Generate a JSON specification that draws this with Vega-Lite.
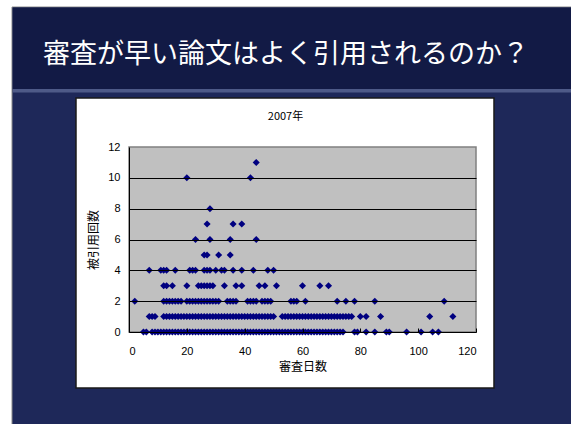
{
  "$schema": "https://vega.github.io/schema/vega-lite/v6.json",
  "width": 347,
  "height": 185,
  "autosize": "none",
  "padding": {"left": 129, "top": 147, "right": 95, "bottom": 92},
  "background": "white",
  "title": {
    "text": "審査が早い論文はよく引用されるのか？",
    "anchor": "start",
    "frame": "group",
    "color": "white",
    "fontSize": 27,
    "font": "Noto Sans CJK JP",
    "fontWeight": "normal",
    "dx": -86,
    "offset": -62
  },
  "config": {"view": {"stroke": null}},
  "datasets": {
    "pts": [
      {"d":5,"c":0},{"d":6,"c":0},{"d":8,"c":0},{"d":9,"c":0},{"d":10,"c":0},{"d":11,"c":0},{"d":12,"c":0},{"d":13,"c":0},{"d":14,"c":0},{"d":15,"c":0},{"d":16,"c":0},{"d":17,"c":0},{"d":18,"c":0},{"d":19,"c":0},{"d":20,"c":0},{"d":21,"c":0},{"d":22,"c":0},{"d":23,"c":0},{"d":24,"c":0},{"d":25,"c":0},{"d":26,"c":0},{"d":27,"c":0},{"d":28,"c":0},{"d":29,"c":0},{"d":30,"c":0},{"d":31,"c":0},{"d":32,"c":0},{"d":33,"c":0},{"d":34,"c":0},{"d":35,"c":0},{"d":36,"c":0},{"d":37,"c":0},{"d":38,"c":0},{"d":39,"c":0},{"d":40,"c":0},{"d":41,"c":0},{"d":42,"c":0},{"d":43,"c":0},{"d":44,"c":0},{"d":45,"c":0},{"d":46,"c":0},{"d":47,"c":0},{"d":48,"c":0},{"d":49,"c":0},{"d":50,"c":0},{"d":51,"c":0},{"d":52,"c":0},{"d":53,"c":0},{"d":54,"c":0},{"d":55,"c":0},{"d":56,"c":0},{"d":57,"c":0},{"d":58,"c":0},{"d":59,"c":0},{"d":60,"c":0},{"d":61,"c":0},{"d":62,"c":0},{"d":63,"c":0},{"d":64,"c":0},{"d":65,"c":0},{"d":66,"c":0},{"d":67,"c":0},{"d":68,"c":0},{"d":69,"c":0},{"d":70,"c":0},{"d":71,"c":0},{"d":72,"c":0},{"d":73,"c":0},{"d":74,"c":0},{"d":78,"c":0},{"d":79,"c":0},{"d":82,"c":0},{"d":85,"c":0},{"d":89,"c":0},{"d":90,"c":0},{"d":96,"c":0},{"d":101,"c":0},{"d":105,"c":0},{"d":107,"c":0},
      {"d":7,"c":1},{"d":8,"c":1},{"d":9,"c":1},{"d":12,"c":1},{"d":13,"c":1},{"d":14,"c":1},{"d":15,"c":1},{"d":16,"c":1},{"d":17,"c":1},{"d":18,"c":1},{"d":19,"c":1},{"d":20,"c":1},{"d":21,"c":1},{"d":22,"c":1},{"d":23,"c":1},{"d":24,"c":1},{"d":25,"c":1},{"d":26,"c":1},{"d":27,"c":1},{"d":28,"c":1},{"d":29,"c":1},{"d":30,"c":1},{"d":31,"c":1},{"d":32,"c":1},{"d":33,"c":1},{"d":34,"c":1},{"d":35,"c":1},{"d":36,"c":1},{"d":37,"c":1},{"d":38,"c":1},{"d":39,"c":1},{"d":40,"c":1},{"d":41,"c":1},{"d":42,"c":1},{"d":43,"c":1},{"d":44,"c":1},{"d":45,"c":1},{"d":46,"c":1},{"d":47,"c":1},{"d":48,"c":1},{"d":49,"c":1},{"d":50,"c":1},{"d":53,"c":1},{"d":54,"c":1},{"d":55,"c":1},{"d":56,"c":1},{"d":57,"c":1},{"d":58,"c":1},{"d":59,"c":1},{"d":60,"c":1},{"d":61,"c":1},{"d":62,"c":1},{"d":63,"c":1},{"d":64,"c":1},{"d":65,"c":1},{"d":66,"c":1},{"d":67,"c":1},{"d":68,"c":1},{"d":69,"c":1},{"d":70,"c":1},{"d":71,"c":1},{"d":72,"c":1},{"d":73,"c":1},{"d":74,"c":1},{"d":75,"c":1},{"d":76,"c":1},{"d":77,"c":1},{"d":80,"c":1},{"d":82,"c":1},{"d":87,"c":1},{"d":104,"c":1},{"d":112,"c":1},
      {"d":2,"c":2},{"d":12,"c":2},{"d":13,"c":2},{"d":14,"c":2},{"d":15,"c":2},{"d":16,"c":2},{"d":17,"c":2},{"d":18,"c":2},{"d":20,"c":2},{"d":21,"c":2},{"d":22,"c":2},{"d":23,"c":2},{"d":24,"c":2},{"d":25,"c":2},{"d":26,"c":2},{"d":27,"c":2},{"d":28,"c":2},{"d":29,"c":2},{"d":30,"c":2},{"d":31,"c":2},{"d":34,"c":2},{"d":35,"c":2},{"d":36,"c":2},{"d":37,"c":2},{"d":41,"c":2},{"d":42,"c":2},{"d":43,"c":2},{"d":44,"c":2},{"d":46,"c":2},{"d":47,"c":2},{"d":48,"c":2},{"d":49,"c":2},{"d":56,"c":2},{"d":57,"c":2},{"d":58,"c":2},{"d":61,"c":2},{"d":72,"c":2},{"d":75,"c":2},{"d":78,"c":2},{"d":85,"c":2},{"d":109,"c":2},
      {"d":12,"c":3},{"d":13,"c":3},{"d":15,"c":3},{"d":20,"c":3},{"d":24,"c":3},{"d":25,"c":3},{"d":26,"c":3},{"d":27,"c":3},{"d":28,"c":3},{"d":29,"c":3},{"d":33,"c":3},{"d":37,"c":3},{"d":39,"c":3},{"d":45,"c":3},{"d":47,"c":3},{"d":51,"c":3},{"d":60,"c":3},{"d":66,"c":3},{"d":69,"c":3},
      {"d":7,"c":4},{"d":11,"c":4},{"d":12,"c":4},{"d":13,"c":4},{"d":16,"c":4},{"d":21,"c":4},{"d":22,"c":4},{"d":23,"c":4},{"d":26,"c":4},{"d":27,"c":4},{"d":28,"c":4},{"d":30,"c":4},{"d":32,"c":4},{"d":33,"c":4},{"d":36,"c":4},{"d":39,"c":4},{"d":43,"c":4},{"d":48,"c":4},{"d":50,"c":4},
      {"d":26,"c":5},{"d":27,"c":5},{"d":31,"c":5},{"d":35,"c":5},
      {"d":23,"c":6},{"d":28,"c":6},{"d":35,"c":6},{"d":44,"c":6},
      {"d":27,"c":7},{"d":36,"c":7},{"d":39,"c":7},
      {"d":28,"c":8},
      {"d":20,"c":10},{"d":42,"c":10},
      {"d":44,"c":11}
    ]
  },
  "layer": [
    {
      "data": {"values": [{}]},
      "mark": {"type": "rect", "fill": "#1e2859", "stroke": "#8a8a8a", "strokeWidth": 1},
      "encoding": {
        "x": {"datum": -40.46, "type": "quantitative", "scale": {"domain": [0, 120], "nice": false, "zero": false}, "axis": null},
        "x2": {"datum": 160},
        "y": {"datum": 21.08, "type": "quantitative", "scale": {"domain": [0, 12], "nice": false, "zero": false}, "axis": null},
        "y2": {"datum": -7}
      }
    },
    {
      "data": {"values": [{}]},
      "mark": {"type": "rect", "fill": "#121a45"},
      "encoding": {
        "x": {"datum": -40.2, "type": "quantitative", "axis": null},
        "x2": {"datum": 160},
        "y": {"datum": 21.05, "type": "quantitative", "axis": null},
        "y2": {"datum": 15.76}
      }
    },
    {
      "data": {"values": [{}]},
      "mark": {"type": "rect", "fill": "#4e5a88"},
      "encoding": {
        "x": {"datum": -40.2, "type": "quantitative", "axis": null},
        "x2": {"datum": 160},
        "y": {"datum": 15.76, "type": "quantitative", "axis": null},
        "y2": {"datum": 15.54}
      }
    },
    {
      "data": {"values": [{}]},
      "mark": {"type": "rect", "fill": "white", "stroke": "#1a1a1a", "strokeWidth": 1.5},
      "encoding": {
        "x": {"datum": -18.33, "type": "quantitative", "axis": null},
        "x2": {"datum": 126.22},
        "y": {"datum": 15.18, "type": "quantitative", "axis": null},
        "y2": {"datum": -3.63}
      }
    },
    {
      "data": {"values": [{}]},
      "mark": {"type": "rect", "fill": "#c0c0c0", "stroke": "#808080", "strokeWidth": 1.5},
      "encoding": {
        "x": {
          "datum": 0, "type": "quantitative",
          "axis": {"orient": "top", "title": "2007年", "labels": false, "ticks": false, "domain": false, "grid": false, "zindex": 1,
                   "titlePadding": 26, "titleFont": "Noto Sans CJK JP", "titleFontSize": 11, "titleFontWeight": "normal", "titleColor": "black", "titleX": 156}
        },
        "x2": {"datum": 120},
        "y": {"datum": 0, "type": "quantitative", "axis": null},
        "y2": {"datum": 12}
      }
    },
    {
      "data": {"name": "pts"},
      "mark": {"type": "point", "shape": "diamond", "filled": true, "color": "#000080", "size": 50, "opacity": 1},
      "encoding": {
        "x": {
          "field": "d", "type": "quantitative",
          "scale": {"domain": [0, 120], "nice": false, "zero": false},
          "axis": {"title": "審査日数", "values": [0, 20, 40, 60, 80, 100, 120], "grid": false, "zindex": 1,
                   "domainColor": "black", "domainWidth": 1, "tickColor": "black", "tickSize": -4, "labelPadding": 17,
                   "labelFont": "Liberation Sans", "labelFontSize": 11, "labelColor": "black",
                   "titleFont": "Noto Sans CJK JP", "titleFontSize": 12, "titleFontWeight": "normal", "titleColor": "black", "titlePadding": 5}
        },
        "y": {
          "field": "c", "type": "quantitative",
          "scale": {"domain": [0, 12], "nice": false, "zero": false},
          "axis": {"title": "被引用回数", "values": [0, 2, 4, 6, 8, 10, 12], "grid": true, "gridColor": "black", "gridWidth": 1, "zindex": 1,
                   "gridOpacity": {"condition": {"test": "datum.value >= 12 || datum.value <= 0", "value": 0}, "value": 1},
                   "domainColor": "black", "domainWidth": 1, "ticks": false, "labelPadding": 9,
                   "labelFont": "Liberation Sans", "labelFontSize": 11, "labelColor": "black",
                   "titleFont": "Noto Sans CJK JP", "titleFontSize": 12, "titleFontWeight": "normal", "titleColor": "black", "titlePadding": 7}
        }
      }
    }
  ],
  "resolve": {"axis": {"x": "independent", "y": "independent"}}
}
